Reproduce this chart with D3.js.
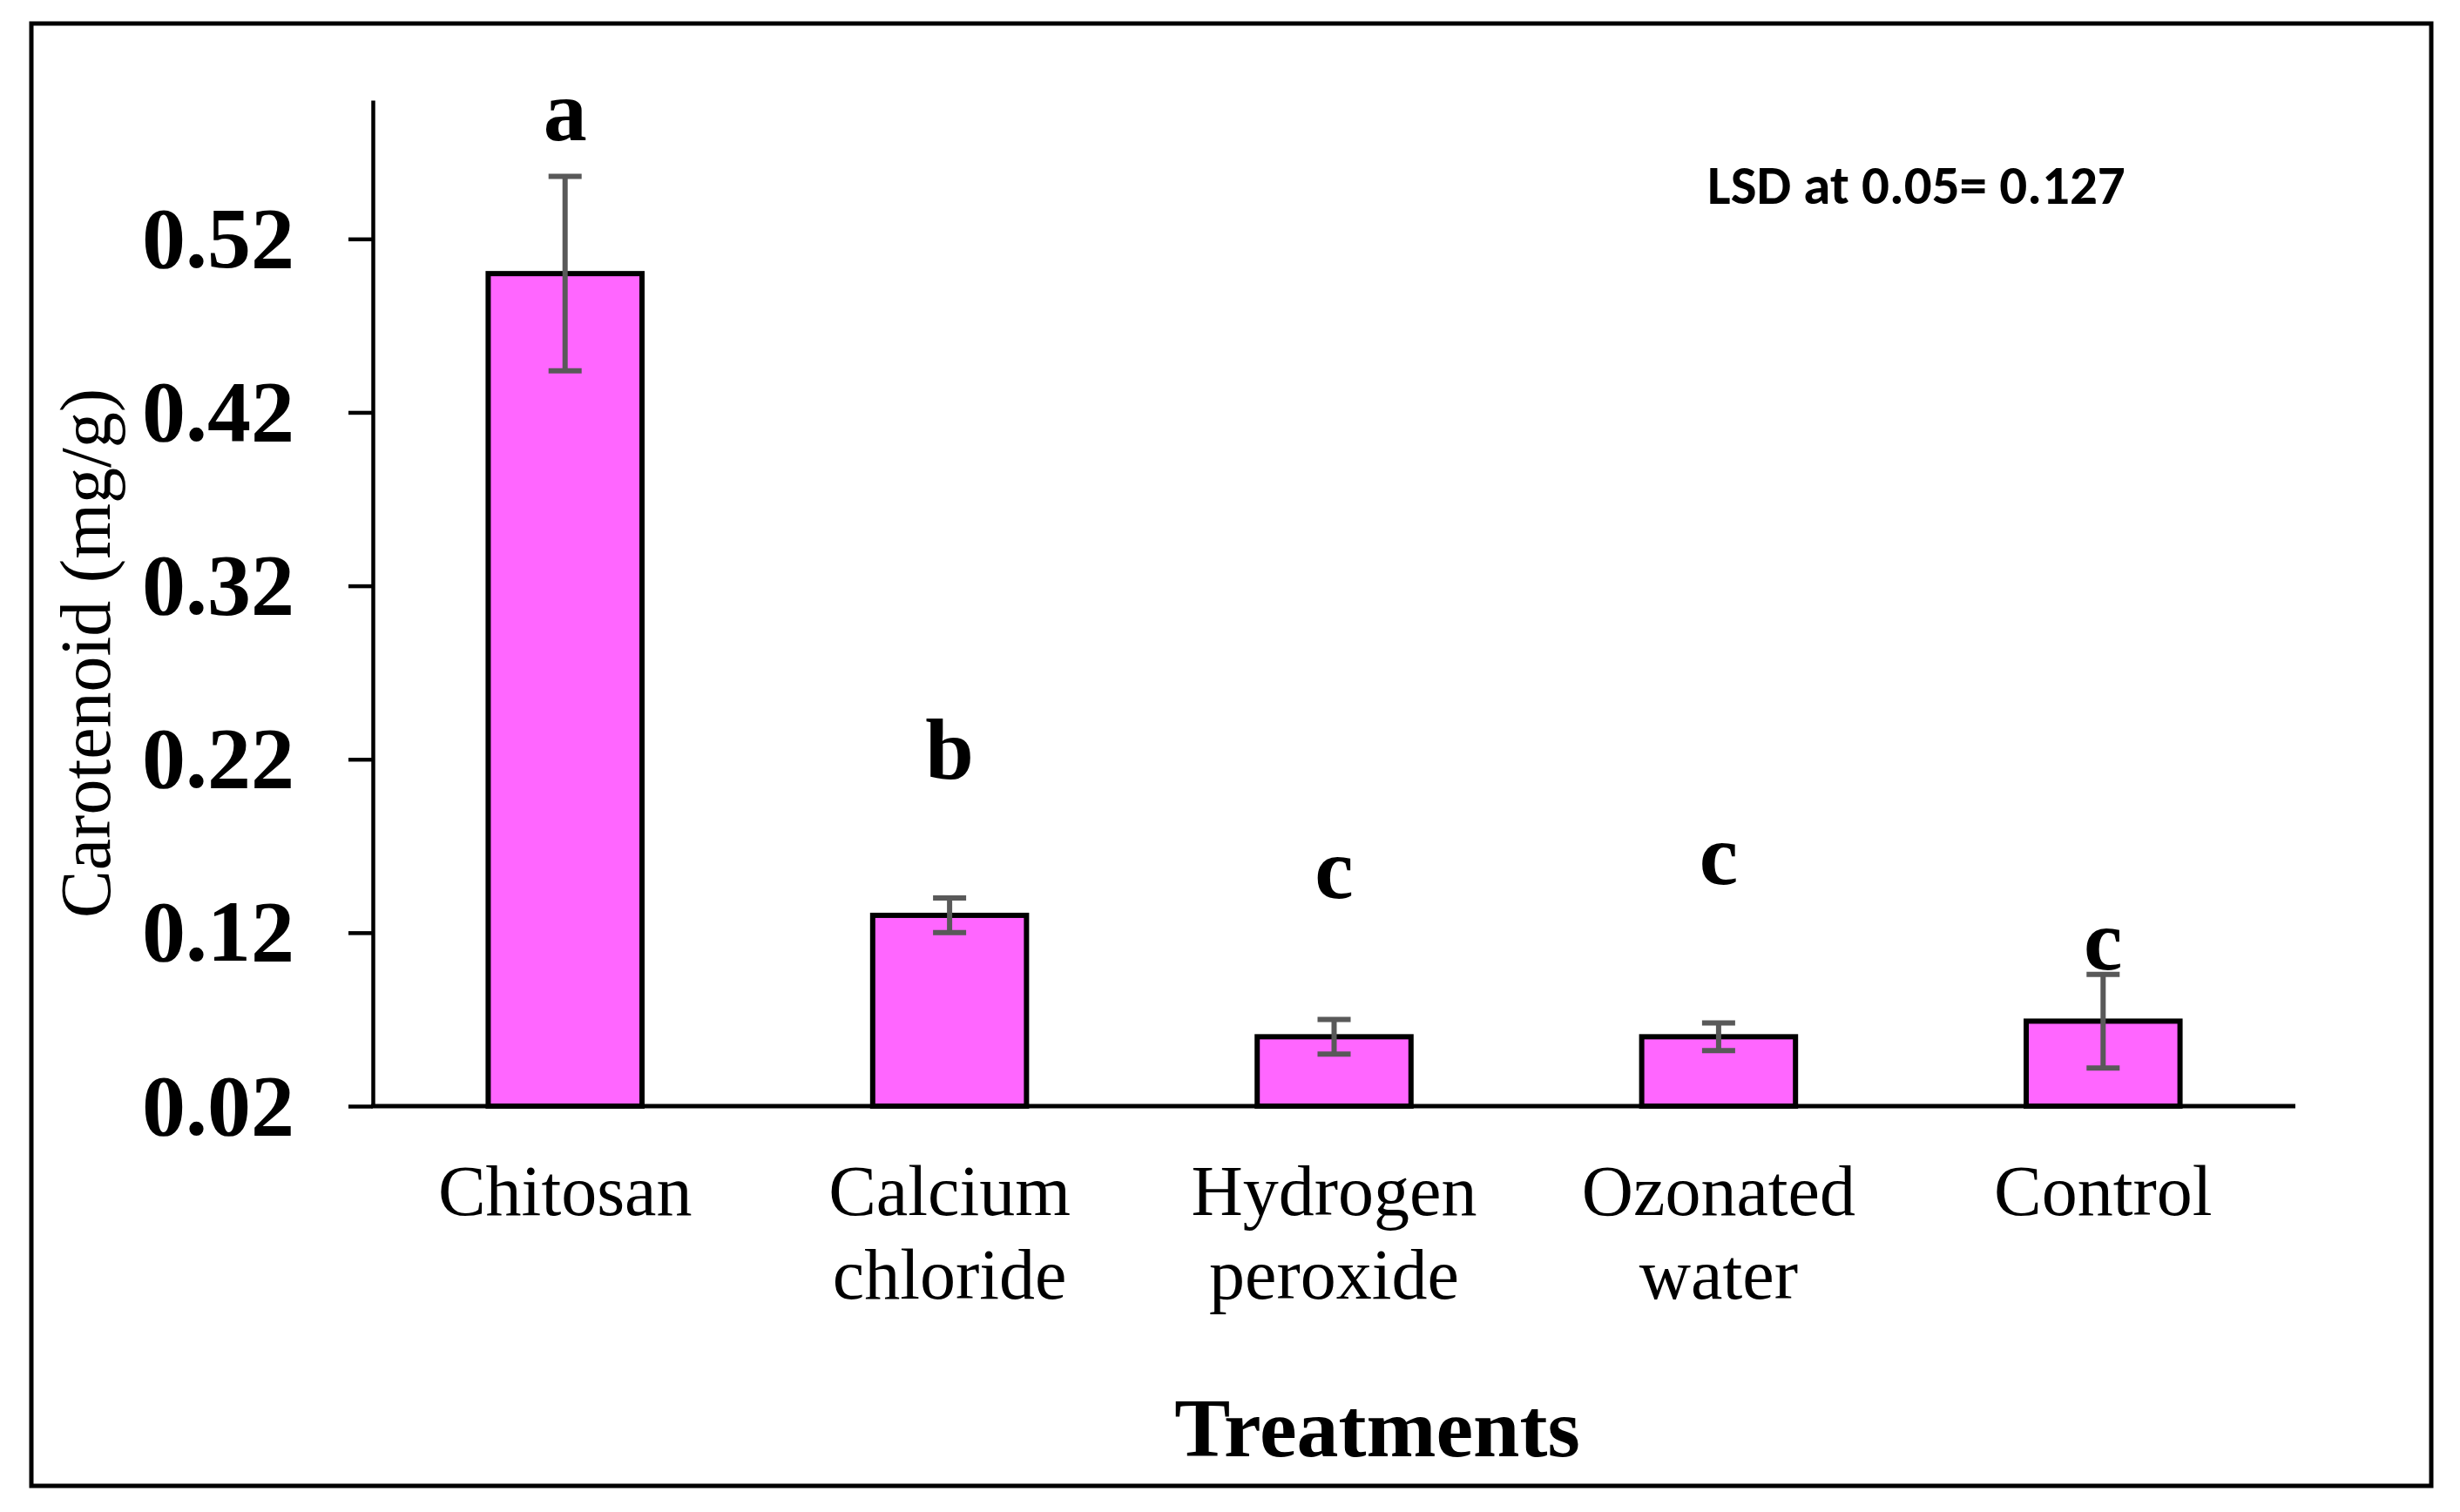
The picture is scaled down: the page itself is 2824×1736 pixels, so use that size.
<!DOCTYPE html>
<html>
<head>
<meta charset="utf-8">
<script src="https://cdn.jsdelivr.net/npm/d3@7"></script>
<style>
  body { margin: 0; background: #fff; }
  svg { display: block; }
</style>
</head>
<body>
<svg id="chart" width="2824" height="1736"></svg>
<script>
// data
const treatments = [["Chitosan"], ["Calcium", "chloride"], ["Hydrogen", "peroxide"], ["Ozonated", "water"], ["Control"]];
const carotenoid = [0.50, 0.13, 0.06, 0.06, 0.069];
const stdErr = [0.056, 0.010, 0.010, 0.008, 0.027];
const letters = ["a", "b", "c", "c", "c"];
const letterAt = [0.577, 0.209, 0.140, 0.148, 0.099]; // baseline of the letter, in mg/g
const yTicks = [0.02, 0.12, 0.22, 0.32, 0.42, 0.52];
const lsdText = "LSD at 0.05= 0.127";

const WIDTH = 2824, HEIGHT = 1736;
const PLOT = { LEFT: 428, RIGHT: 2635, TOP: 115, BOTTOM: 1270 };
const SERIF = "'Liberation Serif', 'Times New Roman', serif";

const svg = d3.select("#chart");

svg.append("rect")
    .attr("width", WIDTH).attr("height", HEIGHT)
    .attr("fill", "#fff");

// outer frame
svg.append("rect")
    .attr("x", 36).attr("y", 27)
    .attr("width", 2791 - 36).attr("height", 1706 - 27)
    .attr("fill", "none")
    .attr("stroke", "#000")
    .attr("stroke-width", 5);

const xScale = d3.scaleBand()
    .domain(d3.range(treatments.length))
    .range([PLOT.LEFT, PLOT.RIGHT])
    .paddingInner(0.6)
    .paddingOuter(0.3);

const yScale = d3.scaleLinear()
    .domain([0.02, 0.6])
    .range([PLOT.BOTTOM, PLOT.TOP]);

// bars
svg.append("g").selectAll("rect")
    .data(carotenoid)
    .join("rect")
    .attr("x", (d, i) => xScale(i))
    .attr("y", d => yScale(d))
    .attr("width", xScale.bandwidth())
    .attr("height", d => yScale(0.02) - yScale(d))
    .attr("fill", "#FF66FF")
    .attr("stroke", "#000")
    .attr("stroke-width", 6);

// error bars
const errG = svg.append("g")
    .attr("stroke", "#595959")
    .attr("stroke-width", 6);
const capW = 38;
carotenoid.forEach((d, i) => {
    const cx = xScale(i) + xScale.bandwidth() / 2;
    const hi = yScale(d + stdErr[i]), lo = yScale(d - stdErr[i]);
    errG.append("line").attr("x1", cx).attr("x2", cx).attr("y1", hi).attr("y2", lo);
    errG.append("line").attr("x1", cx - capW / 2).attr("x2", cx + capW / 2).attr("y1", hi).attr("y2", hi);
    errG.append("line").attr("x1", cx - capW / 2).attr("x2", cx + capW / 2).attr("y1", lo).attr("y2", lo);
});

// y axis
const yAxis = svg.append("g")
    .attr("transform", `translate(${PLOT.LEFT},0)`)
    .call(d3.axisLeft(yScale).tickValues(yTicks).tickFormat(d3.format(".2f")).tickSize(28).tickPadding(62).tickSizeOuter(0));
yAxis.select(".domain").attr("stroke", "#000").attr("stroke-width", 4.5);
yAxis.selectAll(".tick line").attr("stroke", "#000").attr("stroke-width", 4.5);
yAxis.selectAll(".tick text")
    .attr("fill", "#000")
    .style("font-family", SERIF)
    .style("font-weight", "bold")
    .style("font-size", "100px");

// x axis line
svg.append("line")
    .attr("x1", PLOT.LEFT - 2).attr("x2", PLOT.RIGHT)
    .attr("y1", yScale(0.02)).attr("y2", yScale(0.02))
    .attr("stroke", "#000")
    .attr("stroke-width", 5);

// category labels
const catG = svg.append("g")
    .style("font-family", SERIF)
    .style("font-size", "82px")
    .attr("text-anchor", "middle");
treatments.forEach((lines, i) => {
    const t = catG.append("text")
        .attr("x", xScale(i) + xScale.bandwidth() / 2)
        .attr("y", 1395);
    lines.forEach((ln, k) => {
        t.append("tspan")
            .attr("x", xScale(i) + xScale.bandwidth() / 2)
            .attr("dy", k === 0 ? 0 : 96)
            .text(ln);
    });
});

// significance letters
svg.append("g").selectAll("text")
    .data(letters)
    .join("text")
    .attr("x", (d, i) => xScale(i) + xScale.bandwidth() / 2)
    .attr("y", (d, i) => yScale(letterAt[i]))
    .attr("text-anchor", "middle")
    .style("font-family", SERIF)
    .style("font-weight", "bold")
    .style("font-size", "100px")
    .text(d => d);

// axis titles
svg.append("text")
    .attr("transform", "translate(126,750) rotate(-90)")
    .attr("text-anchor", "middle")
    .style("font-family", SERIF)
    .style("font-size", "82px")
    .text("Carotenoid (mg/g)");

svg.append("text")
    .attr("x", 1581).attr("y", 1672)
    .attr("text-anchor", "middle")
    .style("font-family", SERIF)
    .style("font-weight", "bold")
    .style("font-size", "96px")
    .text("Treatments");

// LSD note
svg.append("text")
    .attr("x", 1960).attr("y", 234)
    .style("font-family", "Carlito, Lato, 'Open Sans', sans-serif")
    .style("font-weight", "bold")
    .style("font-size", "63px")
    .text(lsdText);
</script>
</body>
</html>
